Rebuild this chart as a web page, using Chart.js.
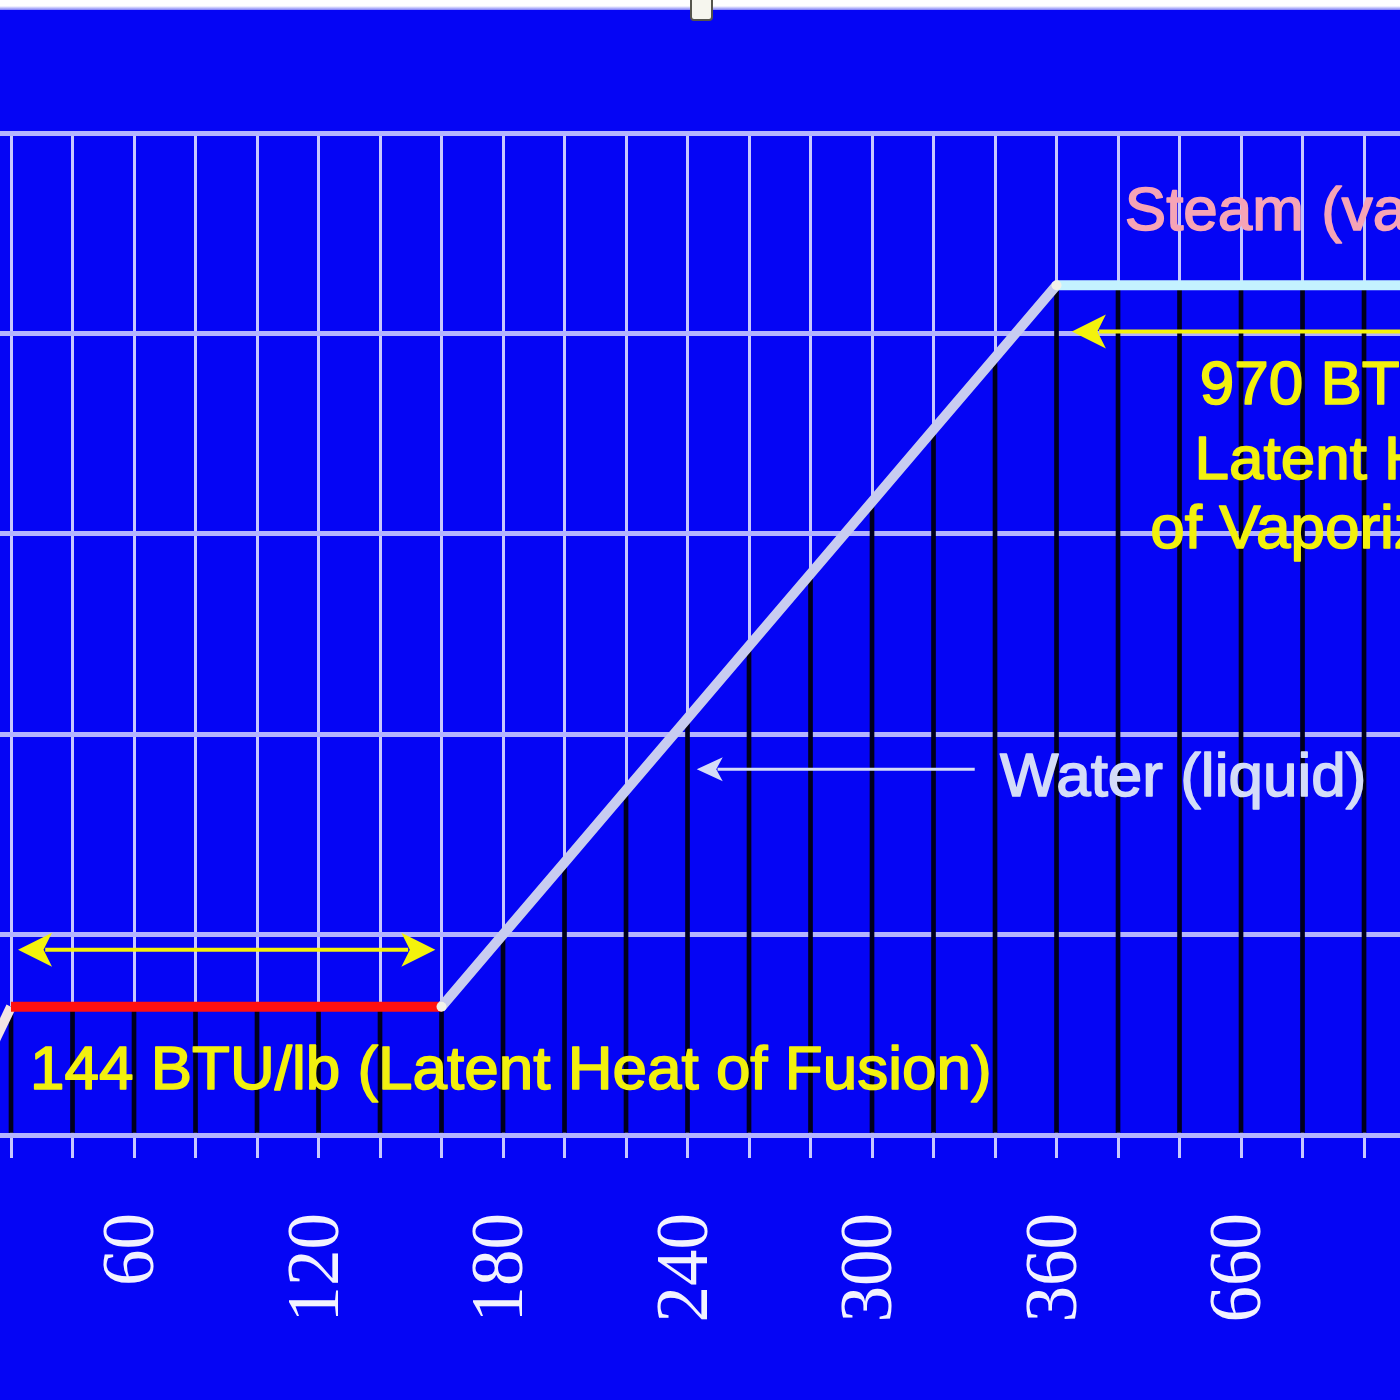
<!DOCTYPE html>
<html>
<head>
<meta charset="utf-8">
<title>Heating curve</title>
<script src="https://cdn.jsdelivr.net/npm/chart.js@4.4.1/dist/chart.umd.min.js"></script>
<style>
    html, body { margin: 0; padding: 0; background: #0505f5; }
    #wrap { position: relative; width: 1400px; height: 1400px; background: #0505f5; overflow: hidden; }
    #topStrip { position: absolute; left: 0; top: 0; width: 1400px; height: 10px; background: linear-gradient(#ffffff 0, #ffffff 6px, #7c7cf8 10px); }
    #handle { position: absolute; left: 690px; top: -3px; width: 19px; height: 20px; background: #f6f6ee; border: 2px solid #55554c; border-radius: 0 0 4px 4px; }
</style>
</head>
<body>
<div id="wrap">
    <canvas id="heatingChart" width="1400" height="1400"></canvas>
    <div id="topStrip"></div>
    <div id="handle"></div>
</div>
<script>
// ========== DATA ==========

// Heat added (category axis) and temperature (°F) at each category
const categories = [0, 20, 40, 60, 80, 100, 120, 140, 160, 180, 200, 220, 240, 260, 280, 300, 320, 340, 360, 460, 560, 660, 760, 860, 960, 1060];
const temperatures = [0, 32, 32, 32, 32, 32, 32, 32, 32, 50, 68, 86, 104, 122, 140, 158, 176, 194, 212, 212, 212, 212, 212, 212, 212, 212];

// Phases: first and last category index of each one
const phaseNames = ['Ice', 'Melting', 'Water', 'Steam'];
const phaseStart = [0, 1, 8, 18];
const phaseEnd = [1, 8, 18, 25];

// Temperature gridlines
const yTicks = [0, 50, 100, 150, 200, 250];

// Only every third category gets a label
const labelEvery = 3;

// ========== CHART ==========

let heatingChart = null;

// Points of one phase as {x: index, y: temperature}
function phasePoints(p) {
    const points = [];
    for (let i = phaseStart[p]; i <= phaseEnd[p]; i++) {
        points.push({ x: i, y: temperatures[i] });
    }
    return points;
}

// Arrow with head at (x2, y2), optionally also at (x1, y1)
function drawArrow(ctx, x1, y1, x2, y2, color, width, headLen, headHalf, both) {
    ctx.save();
    ctx.strokeStyle = color;
    ctx.fillStyle = color;
    ctx.lineWidth = width;
    const dir = Math.sign(x2 - x1);
    ctx.beginPath();
    ctx.moveTo(x1 + (both ? dir * headLen * 0.8 : 0), y1);
    ctx.lineTo(x2 - dir * headLen * 0.8, y2);
    ctx.stroke();
    const heads = both ? [[x2, dir], [x1, -dir]] : [[x2, dir]];
    heads.forEach(([hx, d]) => {
        ctx.beginPath();
        ctx.moveTo(hx, y2);
        ctx.lineTo(hx - d * headLen, y2 - headHalf);
        ctx.lineTo(hx - d * headLen * 0.75, y2);
        ctx.lineTo(hx - d * headLen, y2 + headHalf);
        ctx.closePath();
        ctx.fill();
    });
    ctx.restore();
}

// Filled text with a thin outline in the same colour (heavier look)
function drawText(ctx, text, px, py, color) {
    ctx.fillStyle = color;
    ctx.strokeStyle = color;
    ctx.lineWidth = 1.6;
    ctx.lineJoin = 'round';
    ctx.fillText(text, px, py);
    ctx.strokeText(text, px, py);
}

// Texts and arrows placed in data coordinates
const annotationsPlugin = {
    id: 'annotations',
    afterDatasetsDraw(chart) {
        const { ctx, scales: { x, y } } = chart;

        drawArrow(ctx, x.getPixelForValue(1.114), y.getPixelForValue(46.25),
                  x.getPixelForValue(7.9), y.getPixelForValue(46.25),
                  '#f4f20c', 4, 34, 17, true);
        drawArrow(ctx, x.getPixelForValue(16.67), y.getPixelForValue(91.25),
                  x.getPixelForValue(12.15), y.getPixelForValue(91.25),
                  '#d4dcf8', 3, 26, 12, false);
        drawArrow(ctx, x.getPixelForValue(25), y.getPixelForValue(200.5),
                  x.getPixelForValue(18.25), y.getPixelForValue(200.5),
                  '#f4f20c', 4, 34, 17, false);

        ctx.save();
        ctx.font = '62px "Liberation Sans", Arial, sans-serif';
        ctx.textBaseline = 'alphabetic';

        ctx.textAlign = 'left';
        drawText(ctx, '144 BTU/lb (Latent Heat of Fusion)',
                 x.getPixelForValue(1.31), y.getPixelForValue(11.5), '#f2f00e');
        drawText(ctx, 'Water (liquid)',
                 x.getPixelForValue(17.08), y.getPixelForValue(84.5), '#d4dcf8');
        drawText(ctx, 'Steam (vapor)',
                 x.getPixelForValue(19.11), y.getPixelForValue(225.75), '#f6a4b6');

        ctx.textAlign = 'center';
        const cx = x.getPixelForValue(22.85);
        drawText(ctx, '970 BTU/lb', cx, y.getPixelForValue(182.5), '#f2f00e');
        drawText(ctx, 'Latent Heat', cx, y.getPixelForValue(163.75), '#f2f00e');
        drawText(ctx, 'of Vaporization', cx, y.getPixelForValue(146.5), '#f2f00e');
        ctx.restore();
    }
};

function crearGraficoCalentamiento() {
    const ctx = document.getElementById('heatingChart').getContext('2d');

    if (heatingChart) {
        heatingChart.destroy();
    }

    const lineColors = ['#f2e4e4', '#ff1010', '#c8ccf0', '#c4f2ff'];

    const lineSets = phaseNames.map((name, p) => ({
        type: 'line',
        label: name,
        data: phasePoints(p),
        borderColor: lineColors[p],
        borderWidth: 10,
        borderCapStyle: 'butt',
        pointRadius: (c) => (p >= 2 && c.dataIndex === 0 ? 5 : 0),
        pointBackgroundColor: '#f2f2e8',
        pointBorderWidth: 0,
        order: 5 - p
    }));

    // Drop lines from each point down to the axis
    const dropLines = {
        type: 'bar',
        label: 'Drop lines',
        data: temperatures.map((t, i) => ({ x: i, y: t })),
        backgroundColor: '#00001c',
        barThickness: 4,
        order: 10
    };

    heatingChart = new Chart(ctx, {
        type: 'line',
        data: {
            datasets: [dropLines, ...lineSets]
        },
        options: {
            responsive: false,
            animation: false,
            layout: {
                autoPadding: false,
                padding: { top: 133, left: 0, right: 0, bottom: 0 }
            },
            plugins: {
                legend: { display: false },
                tooltip: { enabled: false },
                title: { display: false }
            },
            scales: {
                x: {
                    type: 'linear',
                    offset: false,
                    min: 0.821,
                    max: 23.585,
                    afterFit: (scale) => {
                        scale.height = 265;
                        scale.paddingLeft = 0;
                        scale.paddingRight = 0;
                    },
                    grid: {
                        offset: false,
                        color: '#c8c8ff',
                        lineWidth: 3,
                        tickLength: 23
                    },
                    border: { color: '#b4b4ff', width: 5 },
                    ticks: {
                        stepSize: 1,
                        includeBounds: false,
                        autoSkip: false,
                        minRotation: 90,
                        maxRotation: 90,
                        padding: 55,
                        color: '#f2f2ff',
                        font: { family: 'Liberation Serif', size: 73 },
                        callback: function(value) {
                            return (Number.isInteger(value) && value % labelEvery === 0)
                                ? String(categories[value]) : '';
                        }
                    }
                },
                y: {
                    min: yTicks[0],
                    max: yTicks[yTicks.length - 1],
                    afterFit: (scale) => { scale.width = 0; },
                    afterBuildTicks: (scale) => {
                        scale.ticks = yTicks.map(v => ({ value: v }));
                    },
                    grid: {
                        color: '#b4b4ff',
                        lineWidth: 5,
                        drawTicks: false
                    },
                    border: { display: false },
                    ticks: { display: false }
                }
            }
        },
        plugins: [annotationsPlugin]
    });
}

crearGraficoCalentamiento();
</script>
</body>
</html>
